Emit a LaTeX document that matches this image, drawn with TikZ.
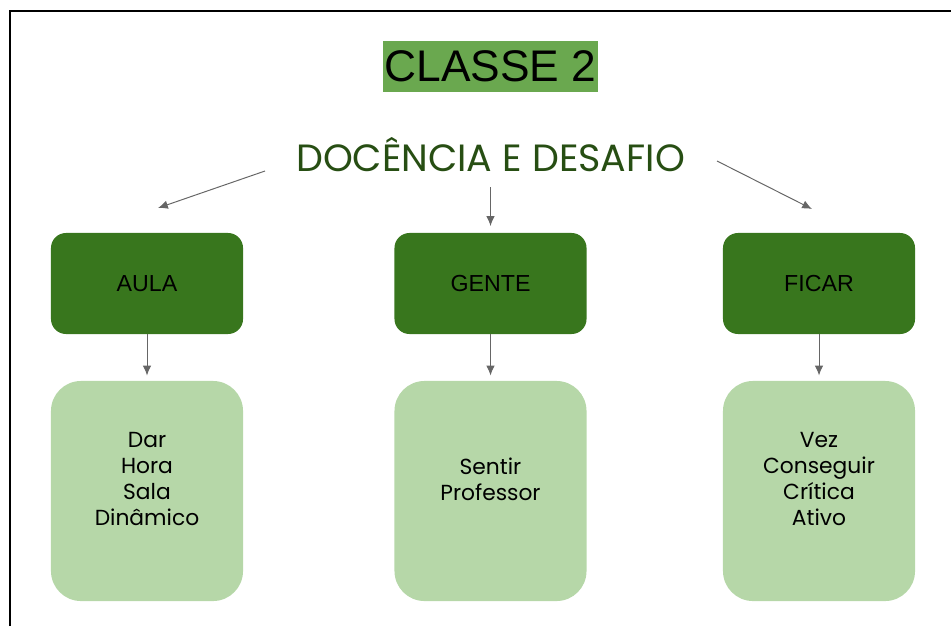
\documentclass[tikz,border=0pt]{standalone}
\usepackage{fontspec}
\setmainfont{Poppins}
\newfontfamily\arialfont{Liberation Sans}
\usetikzlibrary{arrows.meta}

\definecolor{classegreen}{HTML}{6AA84F}
\definecolor{titlegreen}{HTML}{274E13}
\definecolor{darkgreen}{HTML}{38761D}
\definecolor{lightgreen}{HTML}{B6D7A8}
\definecolor{arrowgray}{HTML}{666666}

\begin{document}
\begin{tikzpicture}[x=0.025cm, y=-0.025cm,
    topbox/.style={fill=darkgreen, rounded corners=0.375cm,
      minimum width=4.8cm, minimum height=2.525cm,
      font=\arialfont\fontsize{16.5}{19}\selectfont},
    listbox/.style={fill=lightgreen, rounded corners=0.75cm,
      minimum width=4.8cm, minimum height=5.5cm},
    listtext/.style={align=center, font=\fontsize{15.5}{18.5}\selectfont},
    arr/.style={draw=arrowgray, line width=0.7pt,
      -{Latex[length=7pt, width=6pt]}}]

      \useasboundingbox (0,0) rectangle (951,626);

      % frame around the slide
      \draw[line width=1.4pt] (10,626) -- (10,11) -- (951,11);

      % heading
      \node[fill=classegreen, minimum width=5.375cm, minimum height=1.275cm,
      inner sep=0pt, font=\arialfont\fontsize{31.5}{36}\selectfont] (classe)
      at (490.5,66.5) {CLASSE 2};

      \node[text=titlegreen, font=\fontsize{27}{30}\selectfont] (docencia)
      at (490.5,155) {DOCÊNCIA E DESAFIO};

      % the three themes
      \node[topbox] (aula) at (147,283.5) {AULA};
      \node[topbox] (gente) at (490.5,283.5) {GENTE};
      \node[topbox] (ficar) at (819,283.5) {FICAR};

      % their word lists
      \node[listbox] (aulaList) at (147,491) {};
      \node[listbox] (genteList) at (490.5,491) {};
      \node[listbox] (ficarList) at (819,491) {};

      \node[listtext] (aulaWords) at (147,479)
      {Dar\\Hora\\Sala\\Dinâmico};
      \node[listtext] (genteWords) at (490.5,479)
      {Sentir\\Professor};
      \node[listtext] (ficarWords) at (819,479)
      {Vez\\Conseguir\\Crítica\\Ativo};

      % arrows from the heading down to the themes
      \coordinate (leftStart) at (265,171);
      \coordinate (leftEnd) at (158,208);
      \coordinate (midStart) at (490.5,187);
      \coordinate (midEnd) at (490.5,226);
      \coordinate (rightStart) at (717,161);
      \coordinate (rightEnd) at (812,209);

      \draw[arr] (leftStart) -- (leftEnd);
      \draw[arr] (midStart) -- (midEnd);
      \draw[arr] (rightStart) -- (rightEnd);

      % arrows from each theme to its list
      \draw[arr, shorten >=0.13cm] (aula) -- (aulaList);
      \draw[arr, shorten >=0.13cm] (gente) -- (genteList);
      \draw[arr, shorten >=0.13cm] (ficar) -- (ficarList);
\end{tikzpicture}
\end{document}
